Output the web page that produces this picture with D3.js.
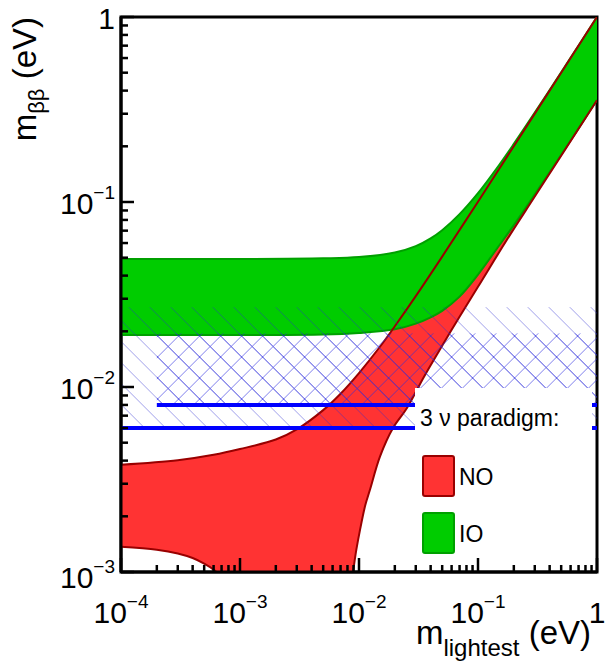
<!DOCTYPE html>
<html><head><meta charset="utf-8">
<script src="https://cdn.jsdelivr.net/npm/d3@7"></script>
<style>
body{margin:0;background:#fff}
svg{display:block}
text{font-family:"Liberation Sans",Arial,Helvetica,sans-serif;fill:#000}
</style>
</head><body>
<svg id="c" width="606" height="664"></svg>
<script>
// Effective Majorana mass m_bb (eV) versus lightest neutrino mass (eV)

// Inverted ordering band (shared x grid)
const ioX     = [1e-4, 1e-3, 0.005, 0.01, 0.02, 0.03, 0.04, 0.05, 0.07, 0.1, 0.15, 0.2, 0.3, 0.5, 0.7, 1];
const ioUpper = [0.0492, 0.0492, 0.0496, 0.0504, 0.0533, 0.0577, 0.0636, 0.0704, 0.0860, 0.1117, 0.158, 0.2061, 0.3041, 0.5025, 0.7018, 1.0];
const ioLower = [0.0191, 0.0191, 0.0192, 0.0196, 0.0205, 0.0220, 0.0238, 0.0258, 0.0308, 0.0405, 0.0580, 0.0750, 0.1100, 0.1800, 0.2500, 0.3560];

// Normal ordering band: upper edge and the two branches of the lower edge
const noUpperX = [1e-4, 3e-4, 6e-4, 1e-3, 2e-3, 3e-3, 5e-3, 7e-3, 0.01, 0.015, 0.02, 0.03, 0.05, 0.1, 0.2, 0.5, 1];
const noUpper  = [0.0038, 0.00402, 0.00430, 0.00462, 0.0052, 0.0059, 0.0075, 0.0092, 0.0119, 0.0165, 0.0213, 0.0310, 0.0507, 0.1004, 0.2003, 0.5, 1.0];
const noLowerLeftX = [1e-4, 2e-4, 3e-4, 4e-4, 5e-4, 6e-4, 7e-4, 8e-4];
const noLowerLeft  = [0.00137, 0.00132, 0.00126, 0.00119, 0.00111, 0.00103, 0.00094, 0.00085];
const noLowerRightX = [0.0085, 0.009, 0.0095, 0.0102, 0.0113, 0.0124, 0.015, 0.0193, 0.0253, 0.035, 0.048, 0.0706, 0.1, 0.175, 0.3, 0.5, 1];
const noLowerRight  = [0.00082, 0.00105, 0.00132, 0.00169, 0.0023, 0.0028, 0.0042, 0.0060, 0.0077, 0.0113, 0.0160, 0.0242, 0.0348, 0.0625, 0.107, 0.178, 0.355];

// Sensitivity regions (hatched) and sensitivity lines
const wideBandX = [1e-4, 1];   const wideBandY = [0.006, 0.027];
const narrowBandX = [2e-4, 1]; const narrowBandY = [0.008, 0.0195];
const sensLineY = [0.008, 0.006];
const sensLineXStart = [2e-4, 1e-4];
const sensLineXEnd = [1, 1];

// Axis ticks
const xMajor = [1e-4, 1e-3, 1e-2, 1e-1, 1];
const xMajorExp = [-4, -3, -2, -1, 0];
const yMajor = [1e-3, 1e-2, 1e-1, 1];
const yMajorExp = [-3, -2, -1, 0];

const legendHeader = "3 \u03BD paradigm:";
const legendLabels = ["NO", "IO"];

const RED = "#ff3333", DARKRED = "#990000", GREEN = "#00cc00", DARKGREEN = "#00a000";

const svg = d3.select("#c");
const L = 121, R = 597, T = 17, B = 572;
const x = d3.scaleLog().domain([1e-4, 1]).range([L, R]);
const y = d3.scaleLog().domain([1e-3, 1]).range([B, T]);

const minors = (lo, hi) => {
  const out = [];
  for (let e = Math.round(Math.log10(lo)); e < Math.round(Math.log10(hi)); e++)
    for (let k = 2; k <= 9; k++) out.push(k * Math.pow(10, e));
  return out;
};

const defs = svg.append("defs");
defs.append("clipPath").attr("id", "plot")
  .append("rect").attr("x", L).attr("y", T).attr("width", R - L).attr("height", B - T);

// hatch patterns
const back = "M-1,-1L22,22 M-1,20L1,22 M20,-1L22,1";
const fwd  = "M-1,22L22,-1 M-1,1L1,-1 M20,22L22,20";
const pA = defs.append("pattern").attr("id", "hatchA").attr("patternUnits", "userSpaceOnUse")
  .attr("width", 21).attr("height", 21).attr("x", 10.6).attr("y", 0);
pA.append("path").attr("d", back).attr("stroke", "#2a2ad0").attr("stroke-opacity", 0.45).attr("stroke-width", 1).attr("fill", "none");
const pB = defs.append("pattern").attr("id", "hatchB").attr("patternUnits", "userSpaceOnUse")
  .attr("width", 21).attr("height", 21).attr("x", 10.6).attr("y", 0);
pB.append("path").attr("d", back).attr("stroke", "#2a2ae0").attr("stroke-opacity", 0.6).attr("stroke-width", 1).attr("fill", "none");
pB.append("path").attr("d", fwd).attr("stroke", "#2a2ae0").attr("stroke-opacity", 0.6).attr("stroke-width", 1).attr("fill", "none");

// frame
svg.append("rect").attr("x", L).attr("y", T).attr("width", R - L).attr("height", B - T)
  .attr("fill", "none").attr("stroke", "#000").attr("stroke-width", 3);

const plot = svg.append("g").attr("clip-path", "url(#plot)");

const zip = (xs, ys) => xs.map((v, i) => [v, ys[i]]);
const line = d3.line().x(d => x(d[0])).y(d => y(d[1])).curve(d3.curveCatmullRom.alpha(0.5));
const join = (...parts) => parts.map((p, i) => i ? p.replace(/^M/, "L") : p).join("") + "Z";

// NO band
const noU = zip(noUpperX, noUpper);
const noLL = zip(noLowerLeftX, noLowerLeft);
const noLR = zip(noLowerRightX, noLowerRight);
plot.append("path")
  .attr("d", join(line(noU), line(noLR.slice().reverse()), line(noLL.slice().reverse())))
  .attr("fill", RED).attr("stroke", "none");

// IO band
const ioU = zip(ioX, ioUpper);
const ioL = zip(ioX, ioLower);
plot.append("path")
  .attr("d", join(line(ioU), line(ioL.slice().reverse())))
  .attr("fill", GREEN).attr("stroke", "none");
[ioU, ioL].forEach(d => plot.append("path").attr("d", line(d))
  .attr("fill", "none").attr("stroke", DARKGREEN).attr("stroke-width", 2));

// NO band edges
[noU, noLL, noLR].forEach(d => plot.append("path").attr("d", line(d))
  .attr("fill", "none").attr("stroke", DARKRED).attr("stroke-width", 2));

// hatched sensitivity regions
plot.append("rect")
  .attr("x", x(wideBandX[0])).attr("width", x(wideBandX[1]) - x(wideBandX[0]))
  .attr("y", y(wideBandY[1])).attr("height", y(wideBandY[0]) - y(wideBandY[1]))
  .attr("fill", "url(#hatchA)");
plot.append("rect")
  .attr("x", x(narrowBandX[0])).attr("width", x(narrowBandX[1]) - x(narrowBandX[0]))
  .attr("y", y(narrowBandY[1])).attr("height", y(narrowBandY[0]) - y(narrowBandY[1]))
  .attr("fill", "url(#hatchB)");

// sensitivity lines
sensLineY.forEach((v, i) => plot.append("line")
  .attr("x1", x(sensLineXStart[i])).attr("x2", x(sensLineXEnd[i]))
  .attr("y1", y(v)).attr("y2", y(v))
  .attr("stroke", "#0000ff").attr("stroke-width", 4));

// legend
const lg = svg.append("g");
lg.append("rect").attr("x", 415).attr("y", 388).attr("width", 177).attr("height", 177).attr("fill", "#fff");
lg.append("text").attr("x", 420).attr("y", 426).attr("font-size", 23).text(legendHeader);
[[RED, DARKRED], [GREEN, DARKGREEN]].forEach((c, i) => {
  lg.append("rect").attr("x", 423).attr("y", 456 + i * 57).attr("width", 31).attr("height", 40)
    .attr("rx", 2).attr("fill", c[0]).attr("stroke", c[1]).attr("stroke-width", 2);
  lg.append("text").attr("x", 459).attr("y", 485 + i * 57).attr("font-size", 23).text(legendLabels[i]);
});

// axes: lines and inward ticks
const ax = svg.append("g").attr("stroke", "#000");
ax.append("line").attr("x1", L).attr("x2", R).attr("y1", B).attr("y2", B).attr("stroke-width", 3);
ax.append("line").attr("x1", L).attr("x2", L).attr("y1", B).attr("y2", T).attr("stroke-width", 3);
ax.selectAll("line.xt").data(xMajor.concat(minors(1e-4, 1))).join("line").attr("class", "xt")
  .attr("x1", d => x(d)).attr("x2", d => x(d))
  .attr("y1", B).attr("y2", d => B - (xMajor.includes(d) ? 14 : 7)).attr("stroke-width", 2.5);
ax.selectAll("line.yt").data(yMajor.concat(minors(1e-3, 1))).join("line").attr("class", "yt")
  .attr("y1", d => y(d)).attr("y2", d => y(d))
  .attr("x1", L).attr("x2", d => L + (yMajor.includes(d) ? 13 : 7)).attr("stroke-width", 2.5);

// tick labels
function powLabel(sel, e) {
  if (e === 0) { sel.text("1"); return; }
  sel.append("tspan").text("10");
  sel.append("tspan").attr("font-size", 19).attr("dy", -15).text("\u2212" + Math.abs(e));
}
xMajor.forEach((v, i) => {
  const t = svg.append("text").attr("x", x(v)).attr("y", 623).attr("font-size", 30).attr("text-anchor", "middle");
  powLabel(t, xMajorExp[i]);
});
yMajor.forEach((v, i) => {
  const t = svg.append("text").attr("x", 115).attr("y", y(v) + (i === 0 ? 16 : 12))
    .attr("font-size", 30).attr("text-anchor", "end");
  powLabel(t, yMajorExp[i]);
});

// axis titles
const xt = svg.append("text").attr("x", 591).attr("y", 644).attr("font-size", 33).attr("text-anchor", "end");
xt.append("tspan").text("m");
xt.append("tspan").attr("font-size", 24).attr("dy", 12).text("lightest");
xt.append("tspan").attr("dy", -12).text(" (eV)");

const yt = svg.append("text").attr("transform", "translate(36,17) rotate(-90)").attr("font-size", 33).attr("text-anchor", "end");
yt.append("tspan").text("m");
yt.append("tspan").attr("font-size", 22).attr("dy", 8).text("\u03B2\u03B2");
yt.append("tspan").attr("dy", -8).text(" (eV)");
</script>
</body></html>
